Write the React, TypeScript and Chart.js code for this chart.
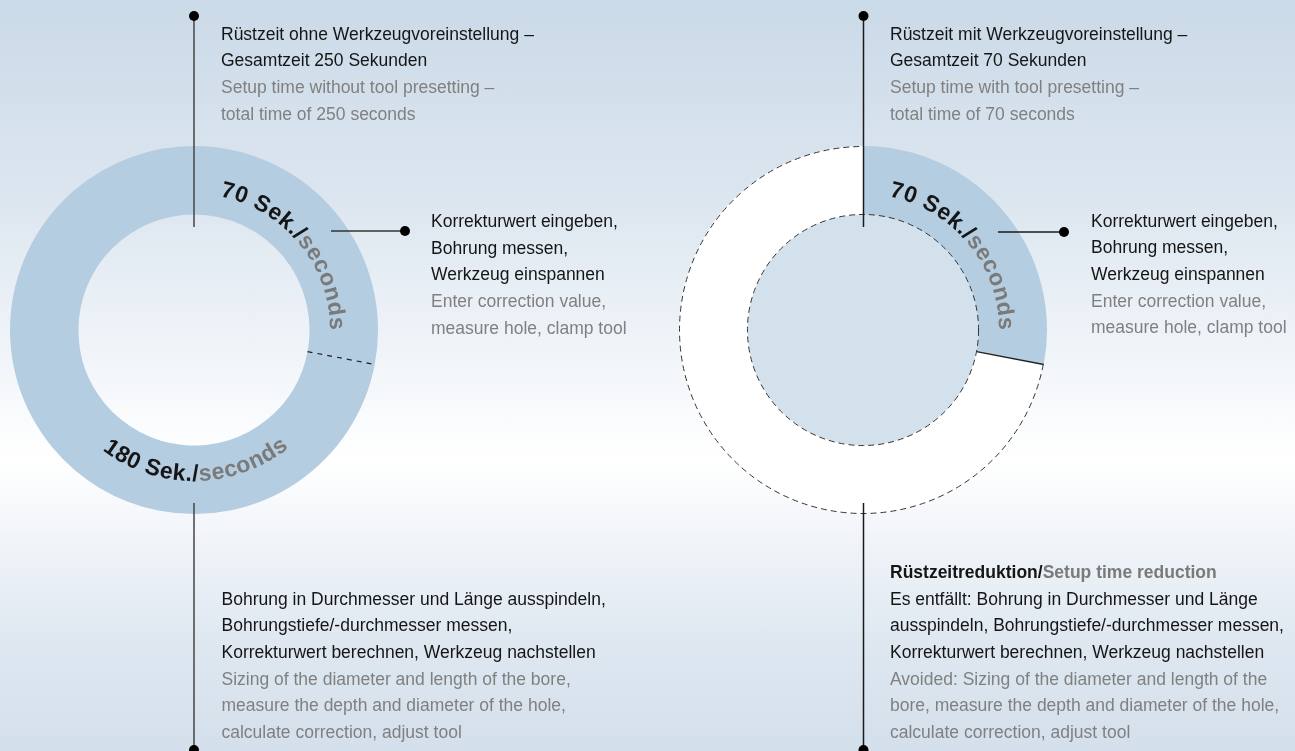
import React, { useEffect, useRef } from 'react';
import { Chart, registerables } from 'chart.js';

Chart.register(...registerables);

// ---------- data ----------
const segmentLabels = ['Korrekturwert eingeben, Bohrung messen, Werkzeug einspannen', 'Bohrung ausspindeln, messen, Korrektur, nachstellen'];
const withoutPresetting = [70, 180];
const withPresetting = [70, 180]; // second value = eliminated time
const valueLabelsDe = ['70 Sek./', '180 Sek./'];
const unitEn = 'seconds';

const topLeftDe = ['Rüstzeit ohne Werkzeugvoreinstellung –', 'Gesamtzeit 250 Sekunden'];
const topLeftEn = ['Setup time without tool presetting –', 'total time of 250 seconds'];
const topRightDe = ['Rüstzeit mit Werkzeugvoreinstellung –', 'Gesamtzeit 70 Sekunden'];
const topRightEn = ['Setup time with tool presetting –', 'total time of 70 seconds'];
const midDe = ['Korrekturwert eingeben,', 'Bohrung messen,', 'Werkzeug einspannen'];
const midEn = ['Enter correction value,', 'measure hole, clamp tool'];
const bottomLeftDe = ['Bohrung in Durchmesser und Länge ausspindeln,', 'Bohrungstiefe/-durchmesser messen,', 'Korrekturwert berechnen, Werkzeug nachstellen'];
const bottomLeftEn = ['Sizing of the diameter and length of the bore,', 'measure the depth and diameter of the hole,', 'calculate correction, adjust tool'];
const bottomRightTitleDe = 'Rüstzeitreduktion/';
const bottomRightTitleEn = 'Setup time reduction';
const bottomRightDe = ['Es entfällt: Bohrung in Durchmesser und Länge', 'ausspindeln, Bohrungstiefe/-durchmesser messen,', 'Korrekturwert berechnen, Werkzeug nachstellen'];
const bottomRightEn = ['Avoided: Sizing of the diameter and length of the', 'bore, measure the depth and diameter of the hole,', 'calculate correction, adjust tool'];

// ---------- styles ----------
const RING = '#b5cde0';
const INNER = '#d3e1ed';
const BLACK = '#151515';
const GREY = '#808080';
const FONT = '"Liberation Sans", Arial, sans-serif';
const deg = Math.PI / 180;

type Part = { text: string; color: string };
type ArcLabel = { seg: number; parts: Part[]; mode: 'outward' | 'inward'; radius: number; center: number };

function drawArcText(ctx: CanvasRenderingContext2D, cx: number, cy: number, lab: ArcLabel, font: string, ls: number) {
  ctx.save();
  ctx.font = font;
  ctx.textAlign = 'center';
  ctx.textBaseline = 'alphabetic';
  const chars: { ch: string; color: string; w: number }[] = [];
  lab.parts.forEach((p) => {
    for (const ch of p.text) chars.push({ ch, color: p.color, w: ctx.measureText(ch).width });
  });
  const total = chars.reduce((s, c) => s + c.w, 0) + ls * (chars.length - 1);
  const r = lab.radius;
  const span = total / r;
  const dir = lab.mode === 'outward' ? 1 : -1;
  let a = lab.center * deg - (dir * span) / 2;
  chars.forEach((c) => {
    const half = c.w / 2 / r;
    const ang = a + dir * half;
    ctx.save();
    ctx.translate(cx + r * Math.cos(ang), cy + r * Math.sin(ang));
    ctx.rotate(lab.mode === 'outward' ? ang + Math.PI / 2 : ang - Math.PI / 2);
    ctx.fillStyle = c.color;
    ctx.fillText(c.ch, 0, 0);
    ctx.restore();
    a += dir * (c.w + ls) / r;
  });
  ctx.restore();
}

const ringDecor = {
  id: 'ringDecor',
  beforeDatasetsDraw(chart: any, _args: any, opts: any) {
    if (!opts.innerFill) return;
    const arc = chart.getDatasetMeta(0).data[0];
    const ctx = chart.ctx;
    ctx.save();
    ctx.beginPath();
    ctx.arc(arc.x, arc.y, arc.innerRadius, 0, Math.PI * 2);
    ctx.fillStyle = opts.innerFill;
    ctx.fill();
    ctx.restore();
  },
  afterDatasetsDraw(chart: any, _args: any, opts: any) {
    const meta = chart.getDatasetMeta(0);
    const a0 = meta.data[0];
    const a1 = meta.data[1];
    const ctx: CanvasRenderingContext2D = chart.ctx;
    const { x, y, innerRadius: ri, outerRadius: ro } = a0;
    // separator between segments
    const e = a0.endAngle;
    ctx.save();
    ctx.beginPath();
    ctx.moveTo(x + ri * Math.cos(e), y + ri * Math.sin(e));
    ctx.lineTo(x + ro * Math.cos(e), y + ro * Math.sin(e));
    ctx.strokeStyle = '#222';
    ctx.lineWidth = opts.sepDashed ? 1.2 : 1.4;
    ctx.setLineDash(opts.sepDashed ? [5, 5] : []);
    ctx.stroke();
    ctx.restore();
    if (opts.dashedOutline) {
      ctx.save();
      ctx.strokeStyle = '#333';
      ctx.lineWidth = 1;
      ctx.setLineDash([6, 4]);
      ctx.beginPath();
      ctx.arc(x, y, ro - 0.5, a1.startAngle, a1.endAngle);
      ctx.stroke();
      ctx.beginPath();
      ctx.arc(x, y, ri, 0, Math.PI * 2);
      ctx.stroke();
      ctx.restore();
    }
    (opts.labels || []).forEach((lab: ArcLabel) => drawArcText(ctx, x, y, lab, `bold 23px ${FONT}`, 0.6));
  },
};

function Donut({ data, left, top, opts }: { data: number[]; left: number; top: number; opts: any }) {
  const ref = useRef<HTMLCanvasElement>(null);
  useEffect(() => {
    const chart = new Chart(ref.current as HTMLCanvasElement, {
      type: 'doughnut',
      data: {
        labels: segmentLabels,
        datasets: [{ data, backgroundColor: opts.colors, borderWidth: 0, hoverOffset: 0 }],
      },
      options: {
        animation: false,
        responsive: false,
        devicePixelRatio: 1,
        cutout: '62.8%',
        layout: { padding: 4 },
        events: [],
        plugins: { legend: { display: false }, tooltip: { enabled: false }, ringDecor: opts } as any,
      },
      plugins: [ringDecor],
    });
    return () => chart.destroy();
  }, []);
  return <canvas ref={ref} width={376} height={376} style={{ position: 'absolute', left, top, width: 376, height: 376 }} />;
}

const lineBox = (left: number, top: number, children: React.ReactNode) => (
  <div style={{ position: 'absolute', left, top, fontSize: 17.5, lineHeight: '26.67px', whiteSpace: 'nowrap' }}>{children}</div>
);

const Lines = ({ de, en }: { de: string[]; en: string[] }) => (
  <>
    {de.map((t, i) => <div key={'d' + i} style={{ color: BLACK }}>{t}</div>)}
    {en.map((t, i) => <div key={'e' + i} style={{ color: GREY }}>{t}</div>)}
  </>
);

export default function App() {
  const top70 = (c: number): ArcLabel => ({ seg: 0, mode: 'outward', radius: 136, center: c, parts: [{ text: valueLabelsDe[0], color: BLACK }, { text: unitEn, color: '#7a7a7a' }] });
  const leftOpts = {
    colors: [RING, RING],
    sepDashed: true,
    labels: [
      top70(-39.5),
      { seg: 1, mode: 'inward', radius: 151, center: 89.3, parts: [{ text: valueLabelsDe[1], color: BLACK }, { text: unitEn, color: '#7a7a7a' }] },
    ],
  };
  const rightOpts = { colors: [RING, '#ffffff'], sepDashed: false, dashedOutline: true, innerFill: INNER, labels: [top70(-39.5)] };
  const stroke = (c: string) => ({ stroke: c, strokeWidth: 1.5 });
  return (
    <div style={{ position: 'fixed', left: 0, top: 0, width: 1295, height: 751, overflow: 'hidden', fontFamily: FONT,
      background: 'linear-gradient(to bottom, #cbdae8 0%, #dbe5ef 25%, #eef3f8 45%, #ffffff 61%, #f3f6fa 70%, #dfe8f1 85%, #d3dfeb 100%)' }}>
      <Donut data={withoutPresetting} left={6} top={142} opts={leftOpts} />
      <Donut data={withPresetting} left={675} top={142} opts={rightOpts} />
      <svg width={1295} height={751} style={{ position: 'absolute', left: 0, top: 0 }}>
        <line x1={194} y1={16} x2={194} y2={227} {...stroke('#444')} />
        <line x1={194} y1={503} x2={194} y2={750} {...stroke('#444')} />
        <line x1={331} y1={231} x2={405} y2={231} {...stroke('#333')} />
        <circle cx={194} cy={16} r={5} fill="#000" />
        <circle cx={194} cy={750} r={5} fill="#000" />
        <circle cx={405} cy={231} r={5} fill="#000" />
        <line x1={863.5} y1={16} x2={863.5} y2={227} {...stroke('#1a1a1a')} />
        <line x1={863.5} y1={503} x2={863.5} y2={750} {...stroke('#1a1a1a')} />
        <line x1={998} y1={232} x2={1064} y2={232} {...stroke('#1a1a1a')} />
        <circle cx={863.5} cy={16} r={5} fill="#000" />
        <circle cx={863.5} cy={750} r={5} fill="#000" />
        <circle cx={1064} cy={232} r={5} fill="#000" />
      </svg>
      {lineBox(221, 20.5, <Lines de={topLeftDe} en={topLeftEn} />)}
      {lineBox(890, 20.5, <Lines de={topRightDe} en={topRightEn} />)}
      {lineBox(431, 208, <Lines de={midDe} en={midEn} />)}
      {lineBox(1091, 207.5, <Lines de={midDe} en={midEn} />)}
      {lineBox(221.5, 585.5, <Lines de={bottomLeftDe} en={bottomLeftEn} />)}
      {lineBox(890, 559, (
        <>
          <div style={{ fontWeight: 'bold' }}><span style={{ color: BLACK }}>{bottomRightTitleDe}</span><span style={{ color: '#7a7a7a' }}>{bottomRightTitleEn}</span></div>
          <Lines de={bottomRightDe} en={bottomRightEn} />
        </>
      ))}
    </div>
  );
}
